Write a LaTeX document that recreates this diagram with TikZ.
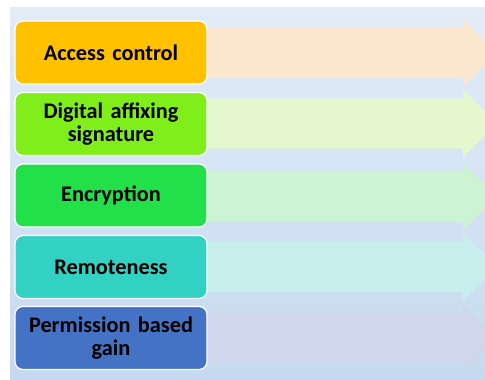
\documentclass[tikz,border=0pt]{standalone}
\usepackage{fontspec}
\setmainfont{Carlito}
\definecolor{bgtop}{HTML}{E3ECF7}
\definecolor{bgbot}{HTML}{C5DAF0}
\definecolor{cA}{HTML}{FFC000}
\definecolor{cB}{HTML}{80EE1A}
\definecolor{cC}{HTML}{22E04A}
\definecolor{cD}{HTML}{33D1C4}
\definecolor{cE}{HTML}{4472C4}
\definecolor{aA}{HTML}{FBE6CF}
\definecolor{aB}{HTML}{E5F7CD}
\definecolor{aC}{HTML}{CDF3D5}
\definecolor{aD}{HTML}{C9EEEE}
\definecolor{aE}{HTML}{D0D6EB}
\tikzset{
  itembox/.style={draw=white, line width=1.2pt, rounded corners=8pt,
    minimum width=192pt, minimum height=63pt, inner sep=2pt,
    align=center, text width=188pt,
    font=\fontsize{22.3}{23.5}\selectfont\bfseries, text=black},
}
\newcommand{\bandarrow}[2]{%
  \fill[#1] (200,#2-25) -- (463,#2-25) -- (463,#2-34) -- (497,#2) -- (463,#2+34) -- (463,#2+25) -- (200,#2+25) -- cycle;}
\begin{document}
\begin{tikzpicture}[x=1pt,y=-1pt]
\useasboundingbox (0,0) rectangle (485,380);
\fill[white] (0,0) rectangle (485,380);
\clip (0,0) rectangle (485,380);
\shade[top color=bgtop, bottom color=bgbot] (10,7) rectangle (485,380);
\bandarrow{aA}{53}
\bandarrow{aB}{123.5}
\bandarrow{aC}{196}
\bandarrow{aD}{266.5}
\bandarrow{aE}{338}
\node[itembox, fill=cA] (b1) at (111,52.5) {Access control};
\node[itembox, fill=cB] (b2) at (111,124) {Digital affixing\\signature};
\node[itembox, fill=cC] (b3) at (111,195.5) {Encryption};
\node[itembox, fill=cD] (b4) at (111,267) {Remoteness};
\node[itembox, fill=cE] (b5) at (111,338) {Permission based\\gain};
\end{tikzpicture}
\end{document}
